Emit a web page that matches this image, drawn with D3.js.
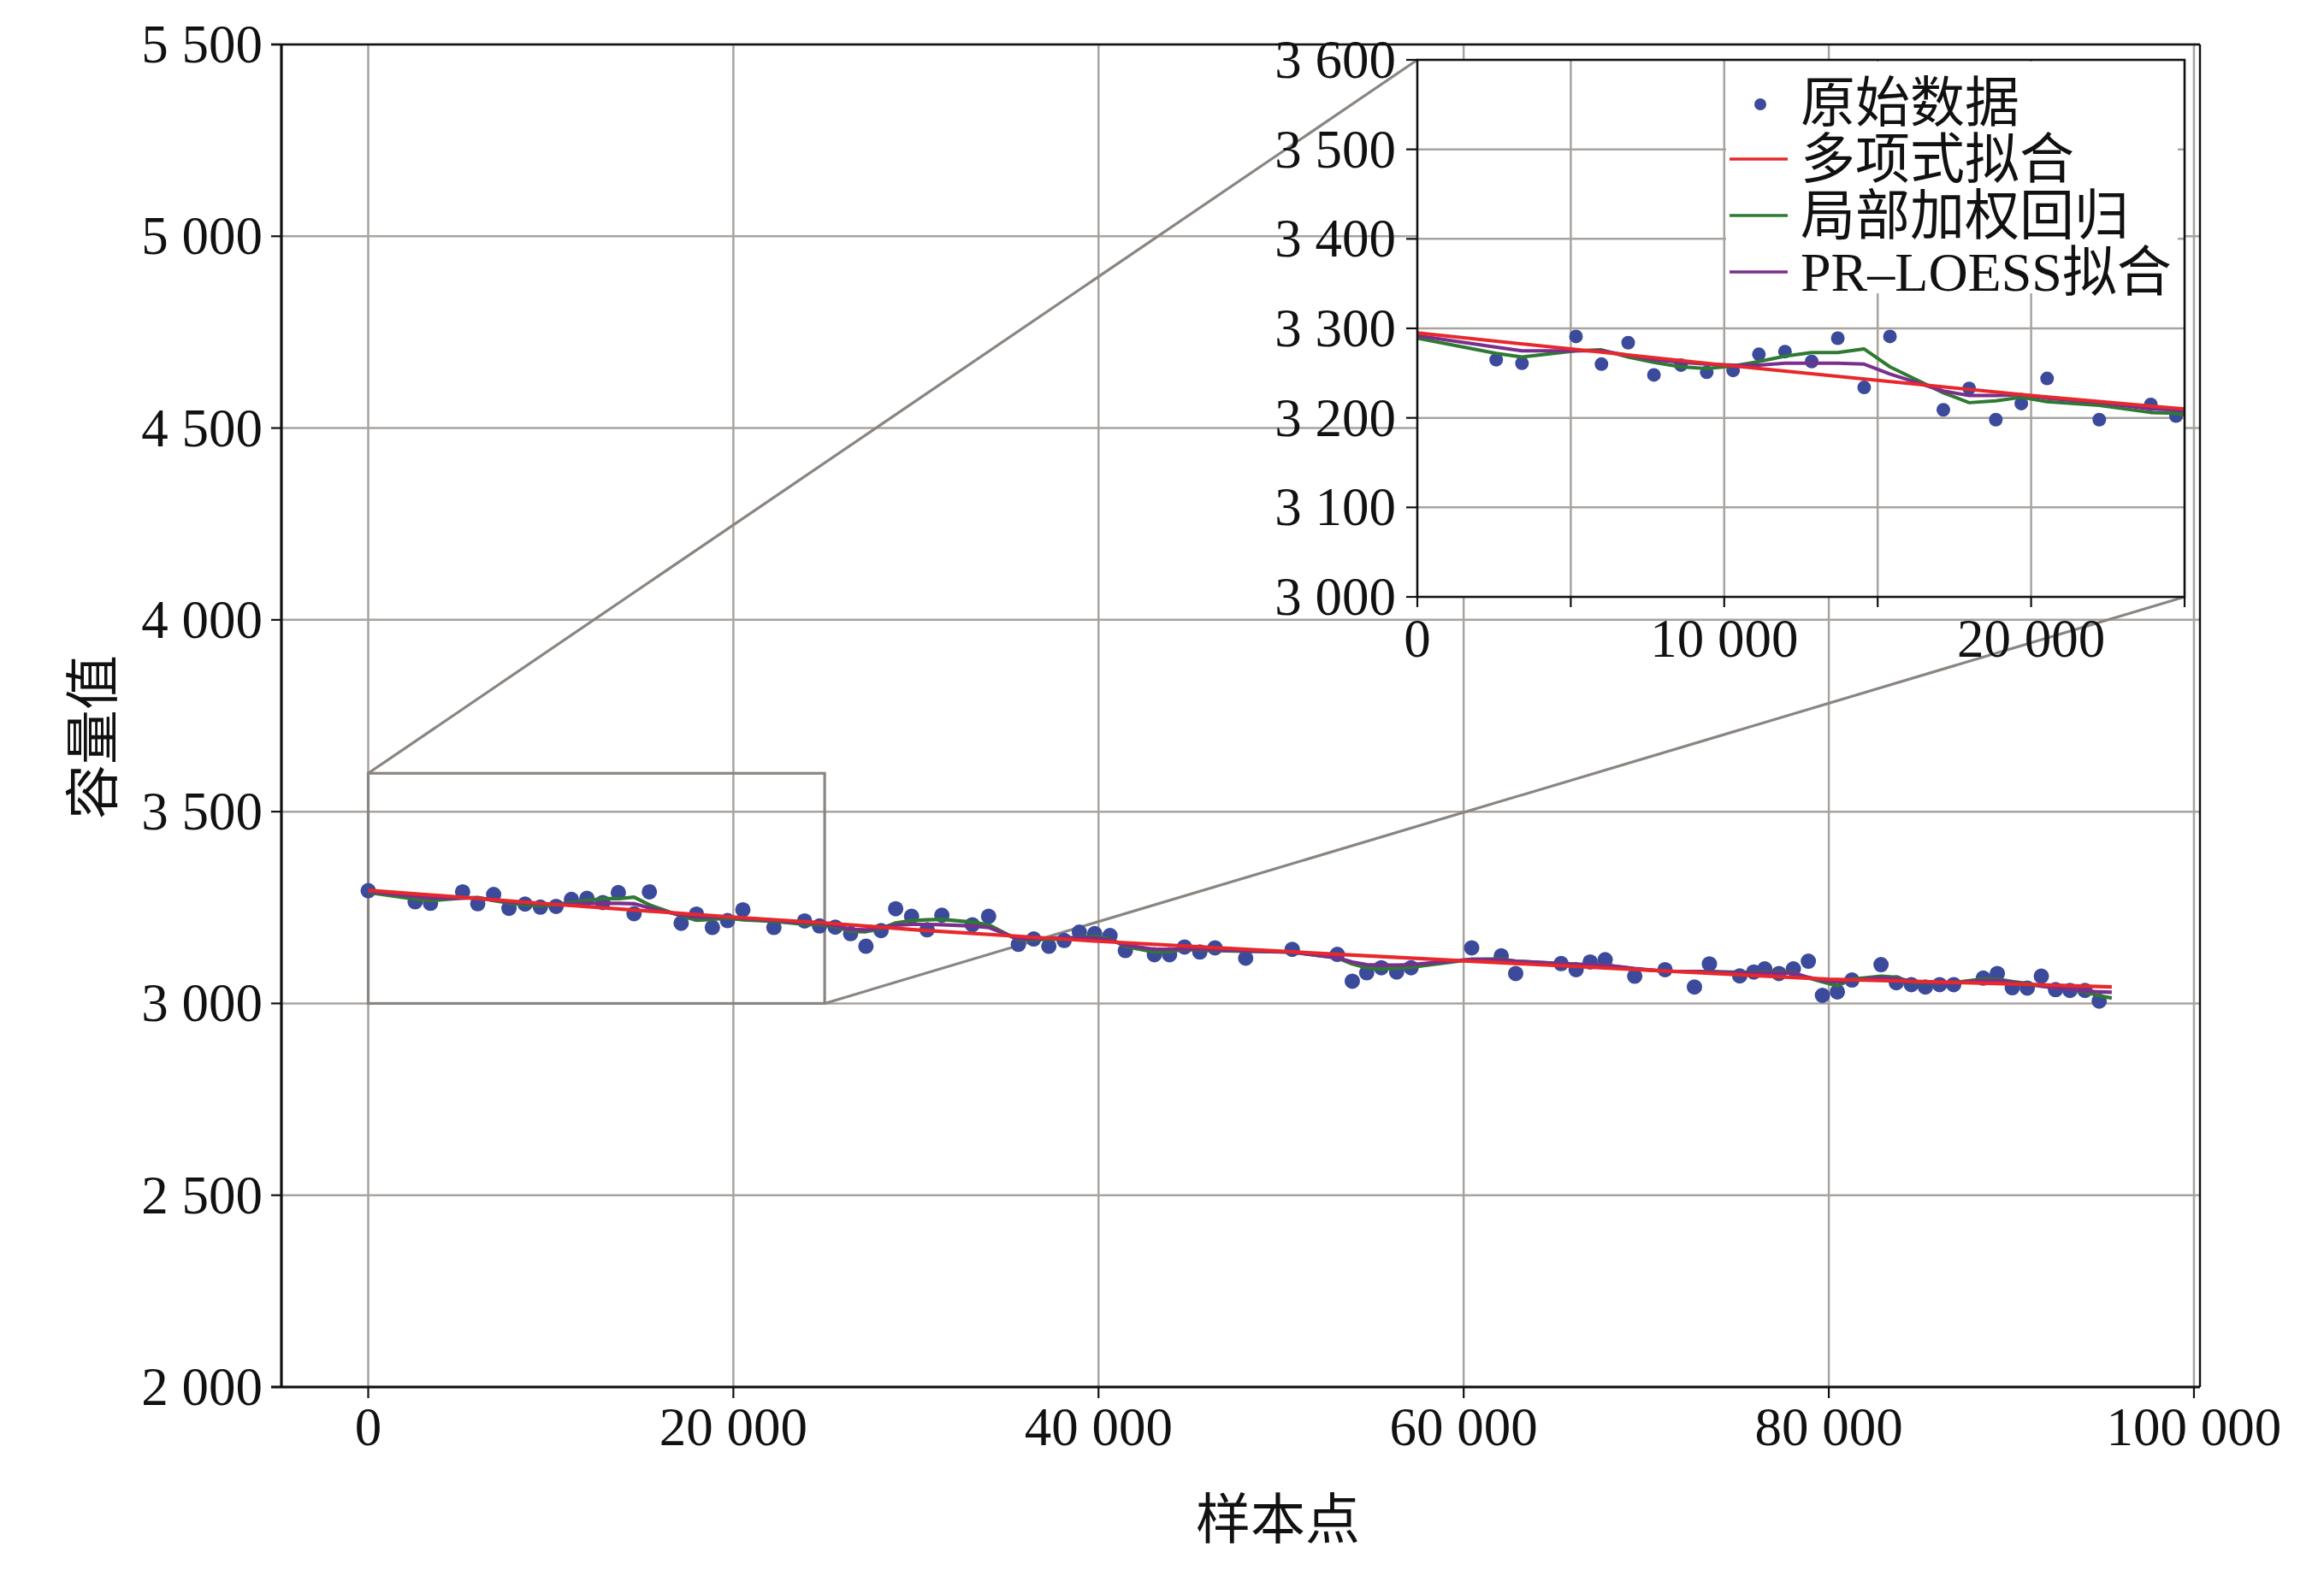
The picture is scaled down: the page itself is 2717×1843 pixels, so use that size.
<!DOCTYPE html>
<html><head><meta charset="utf-8">
<script src="https://cdn.jsdelivr.net/npm/d3@7"></script>
<style>body{margin:0;background:#fff}</style>
</head><body>
<svg id="chart" width="2717" height="1843"></svg>
<script>
// ---------- data ----------
const rawData = [
 [0,3294],[2570,3265],[3410,3261],[5170,3291],[6000,3260],[6870,3284],[7710,3248],[8590,3259],
 [9430,3251],[10290,3253],[11130,3271],[11980,3274],[12850,3263],[13700,3289],[14560,3234],[15400,3291],
 [17140,3209],[17980,3233],[18850,3198],[19680,3216],[20520,3244],[22220,3198],[23900,3215],[24720,3202],
 [25580,3199],[26420,3182],[27260,3149],[28090,3190],[28890,3247],[29760,3227],[30610,3192],[31420,3230],
 [33090,3205],[33980,3227],[35610,3154],[36450,3168],[37280,3149],[38120,3164],[38950,3186],[39790,3182],
 [40630,3177],[41470,3138],[43060,3127],[43890,3127],[44710,3147],[45550,3134],[46380,3145],[48060,3118],
 [50610,3141],[53080,3128],[53900,3058],[54690,3080],[55490,3093],[56330,3082],[57120,3093],[60440,3145],
 [62060,3124],[62850,3078],[65340,3104],[66160,3088],[66930,3108],[67750,3114],[69370,3071],[71030,3088],
 [72640,3043],[73460,3103],[75120,3072],[75890,3082],[76490,3090],[77270,3078],[78060,3090],[78880,3110],
 [79650,3021],[80470,3030],[81270,3061],[82860,3101],[83700,3054],[84520,3049],[85290,3043],[86070,3049],
 [86840,3049],[88460,3066],[89230,3078],[90050,3041],[90870,3040],[91640,3071],[92420,3036],[93210,3034],
 [94030,3034],[94810,3006]
];
const polyFit = [
 [0,3295],[5000,3277],[10000,3259],[15000,3242],[20000,3225],[25000,3210],[30000,3192],[40000,3162],
 [50000,3136],[60000,3111],[70000,3087],[80000,3063],[90000,3051],[95500,3043]
];
const loessFit = [
 [0,3289],[2570,3272],[3410,3268],[5170,3275],[6000,3276],[6870,3268],[7710,3262],[8590,3257],
 [9430,3255],[10290,3258],[11130,3263],[11980,3269],[12850,3273],[13700,3273],[14560,3277],[15400,3257],
 [17140,3228],[17980,3217],[18850,3219],[19680,3223],[20520,3218],[22220,3214],[23900,3206],[24720,3205],
 [25580,3200],[26420,3188],[27260,3187],[28090,3195],[28890,3210],[29760,3216],[30610,3218],[31420,3219],
 [33090,3212],[33980,3205],[35610,3165],[36450,3166],[37280,3167],[38120,3168],[38950,3173],[39790,3175],
 [40630,3168],[41470,3149],[43060,3134],[43890,3135],[44710,3141],[45550,3139],[46380,3138],[48060,3136],
 [50610,3134],[53080,3119],[53900,3103],[54690,3093],[55490,3090],[56330,3092],[57120,3094],[60440,3115],
 [62060,3116],[62850,3110],[65340,3104],[66160,3102],[66930,3101],[67750,3100],[69370,3090],[71030,3084],
 [72640,3083],[73460,3083],[75120,3081],[75890,3081],[76490,3082],[77270,3082],[78060,3080],[78880,3067],
 [79650,3056],[80470,3046],[81270,3063],[82860,3071],[83700,3068],[84520,3056],[85290,3054],[86070,3052],
 [86840,3054],[88460,3064],[89230,3063],[90050,3057],[90870,3052],[91640,3045],[92420,3042],[93210,3036],
 [94030,3030],[94810,3020],[95500,3014]
];
const prLoessFit = [
 [0,3292],[2570,3279],[3410,3275],[5170,3275],[6000,3275],[6870,3270],[7710,3265],[8590,3262],
 [9430,3260],[10290,3259],[11130,3259],[11980,3261],[12850,3261],[13700,3261],[14560,3260],[15400,3249],
 [17140,3230],[17980,3225],[18850,3225],[19680,3226],[20520,3222],[22220,3217],[23900,3210],[24720,3209],
 [25580,3203],[26420,3193],[27260,3192],[28090,3197],[28890,3204],[29760,3206],[30610,3206],[31420,3205],
 [33090,3202],[33980,3198],[35610,3168],[36450,3169],[37280,3170],[38120,3171],[38950,3171],[39790,3171],
 [40630,3166],[41470,3152],[43060,3141],[43890,3141],[44710,3142],[45550,3141],[46380,3140],[48060,3137],
 [50610,3134],[53080,3119],[53900,3108],[54690,3101],[55490,3100],[56330,3100],[57120,3101],[60440,3115],
 [62060,3114],[62850,3110],[65340,3104],[66160,3102],[66930,3101],[67750,3100],[69370,3091],[71030,3084],
 [72640,3083],[73460,3082],[75120,3080],[75890,3080],[76490,3080],[77270,3080],[78060,3079],[78880,3068],
 [79650,3060],[80470,3056],[81270,3060],[82860,3067],[83700,3064],[84520,3058],[85290,3055],[86070,3053],
 [86840,3053],[88460,3060],[89230,3060],[90050,3055],[90870,3050],[91640,3045],[92420,3040],[93210,3037],
 [94030,3033],[94810,3030],[95500,3029]
];
const mainXTicks = [0,20000,40000,60000,80000,100000];
const mainYTicks = [2000,2500,3000,3500,4000,4500,5000,5500];
const insetXTicks = [0,5000,10000,15000,20000,25000];
const insetXLabels = [0,10000,20000];
const insetYTicks = [3000,3100,3200,3300,3400,3500,3600];
const zoomXRange = [0,25000];
const zoomYRange = [3000,3600];
const legendLabels = ["原始数据","多项式拟合","局部加权回归","PR–LOESS拟合"];
const xTitle = "样本点";
const yTitle = "容量值";

// ---------- styles ----------
const C = {dot:"#3b4a9b", poly:"#e8282b", loess:"#2f7a32", pr:"#7b2f8c", grid:"#a8a39f", conn:"#8a8581", axis:"#111"};
const latin = "'Liberation Serif','Times New Roman',serif";
const mixed = "'Liberation Serif','Noto Sans CJK SC',serif";
const cjk = "'Noto Sans CJK SC',sans-serif";
const fmt = d3.formatLocale({decimal:".",thousands:" ",grouping:[3],currency:["",""]}).format(",");

const svg = d3.select("#chart");
svg.append("rect").attr("width",2717).attr("height",1843).attr("fill","#fff");

// main geometry
const M = {l:329, r:2572, t:52, b:1622};
const x = d3.scaleLinear().domain([-4755,100330]).range([M.l,M.r]);
const y = d3.scaleLinear().domain([2000,5500]).range([M.b,M.t]);
// inset geometry
const I = {l:1657, r:2554, t:70, b:698};
const xi = d3.scaleLinear().domain(zoomXRange).range([I.l,I.r]);
const yi = d3.scaleLinear().domain(zoomYRange).range([I.b,I.t]);

// main grid
const g = svg.append("g");
g.selectAll(".vg").data(mainXTicks).join("line")
 .attr("x1",d=>x(d)).attr("x2",d=>x(d)).attr("y1",M.t).attr("y2",M.b)
 .attr("stroke",C.grid).attr("stroke-width",2.5);
g.selectAll(".hg").data(mainYTicks).join("line")
 .attr("y1",d=>y(d)).attr("y2",d=>y(d)).attr("x1",M.l).attr("x2",M.r)
 .attr("stroke",C.grid).attr("stroke-width",2.5);

// zoom rectangle + connectors
svg.append("rect").attr("x",x(zoomXRange[0])).attr("y",y(zoomYRange[1]))
 .attr("width",x(zoomXRange[1])-x(zoomXRange[0])).attr("height",y(zoomYRange[0])-y(zoomYRange[1]))
 .attr("fill","none").attr("stroke",C.conn).attr("stroke-width",3.2);
svg.append("line").attr("x1",x(zoomXRange[0])).attr("y1",y(zoomYRange[1])).attr("x2",I.l).attr("y2",I.t)
 .attr("stroke",C.conn).attr("stroke-width",3.2);
svg.append("line").attr("x1",x(zoomXRange[1])).attr("y1",y(zoomYRange[0])).attr("x2",I.r).attr("y2",I.b)
 .attr("stroke",C.conn).attr("stroke-width",3.2);

function drawSeries(parent, sx, sy, r, lw, filterDots){
  const dots = filterDots ? rawData.filter(filterDots) : rawData;
  parent.selectAll(null).data(dots).join("circle")
   .attr("cx",d=>sx(d[0])).attr("cy",d=>sy(d[1])).attr("r",r).attr("fill",C.dot);
  const line = d3.line().x(d=>sx(d[0])).y(d=>sy(d[1]));
  parent.append("path").attr("d",line(loessFit)).attr("fill","none").attr("stroke",C.loess).attr("stroke-width",lw).attr("stroke-linejoin","round");
  parent.append("path").attr("d",line(prLoessFit)).attr("fill","none").attr("stroke",C.pr).attr("stroke-width",lw).attr("stroke-linejoin","round");
  parent.append("path").attr("d",line(polyFit)).attr("fill","none").attr("stroke",C.poly).attr("stroke-width",lw).attr("stroke-linejoin","round");
}
drawSeries(svg.append("g"), x, y, 9, 4.2);

// main frame
svg.append("line").attr("x1",M.l-12).attr("x2",M.r).attr("y1",M.t).attr("y2",M.t).attr("stroke",C.axis).attr("stroke-width",2.4);
svg.append("line").attr("x1",M.r).attr("x2",M.r).attr("y1",M.t).attr("y2",M.b).attr("stroke",C.axis).attr("stroke-width",2.4);
svg.append("line").attr("x1",M.l).attr("x2",M.l).attr("y1",M.t).attr("y2",M.b).attr("stroke",C.axis).attr("stroke-width",3.2);
svg.append("line").attr("x1",M.l-12).attr("x2",M.r).attr("y1",M.b).attr("y2",M.b).attr("stroke",C.axis).attr("stroke-width",3.2);
// main ticks + labels
svg.selectAll(null).data(mainYTicks).join("line").attr("x1",M.l-12).attr("x2",M.l).attr("y1",d=>y(d)).attr("y2",d=>y(d)).attr("stroke",C.axis).attr("stroke-width",2.2);
svg.selectAll(null).data(mainXTicks).join("line").attr("x1",d=>x(d)).attr("x2",d=>x(d)).attr("y1",M.b).attr("y2",M.b+13).attr("stroke",C.axis).attr("stroke-width",2.2);
svg.selectAll(null).data(mainYTicks).join("text").attr("x",307).attr("y",d=>y(d)+21)
 .attr("text-anchor","end").attr("font-family",latin).attr("font-size",63).attr("fill","#111").text(d=>fmt(d));
svg.selectAll(null).data(mainXTicks).join("text").attr("x",d=>x(d)).attr("y",1690)
 .attr("text-anchor","middle").attr("font-family",latin).attr("font-size",63).attr("fill","#111").text(d=>fmt(d));

// axis titles
svg.append("text").attr("transform","translate(103,862) rotate(-90)").attr("text-anchor","middle")
 .attr("dominant-baseline","central").attr("font-family",cjk).attr("font-size",64).attr("fill","#111").text(yTitle);
svg.append("text").attr("x",1494).attr("y",1771).attr("text-anchor","middle")
 .attr("dominant-baseline","central").attr("font-family",cjk).attr("font-size",64).attr("fill","#111").text(xTitle);

// ---------- inset ----------
const ig = svg.append("g");
ig.append("rect").attr("x",I.l).attr("y",I.t).attr("width",I.r-I.l).attr("height",I.b-I.t).attr("fill","#fff");
ig.selectAll(null).data(insetXTicks.slice(1,-1)).join("line")
 .attr("x1",d=>xi(d)).attr("x2",d=>xi(d)).attr("y1",I.t).attr("y2",I.b).attr("stroke",C.grid).attr("stroke-width",2.5);
ig.selectAll(null).data(insetYTicks.slice(1,-1)).join("line")
 .attr("y1",d=>yi(d)).attr("y2",d=>yi(d)).attr("x1",I.l).attr("x2",I.r).attr("stroke",C.grid).attr("stroke-width",2.5);
svg.append("clipPath").attr("id","iclip").append("rect").attr("x",I.l).attr("y",I.t).attr("width",I.r-I.l).attr("height",I.b-I.t);
const idata = ig.append("g").attr("clip-path","url(#iclip)");
drawSeries(idata, xi, yi, 8, 4, d=>d[0]>0 && d[0]<=zoomXRange[1]+500);

// legend
const L = {x0:2018, x1:2546, y0:72, y1:343};
ig.append("rect").attr("x",L.x0).attr("y",L.y0).attr("width",L.x1-L.x0).attr("height",L.y1-L.y0).attr("fill","#fff");
const legendY = [120,186,252,318];
const legendColors = [C.dot,C.poly,C.loess,C.pr];
legendLabels.forEach((lab,i)=>{
  if(i===0){
    ig.append("circle").attr("cx",2058).attr("cy",legendY[i]+2).attr("r",7).attr("fill",C.dot);
  } else {
    ig.append("line").attr("x1",2022).attr("x2",2090).attr("y1",legendY[i]).attr("y2",legendY[i])
      .attr("stroke",legendColors[i]).attr("stroke-width",3.6);
  }
  ig.append("text").attr("x",2105).attr("y",legendY[i]).attr("dominant-baseline","central")
    .attr("font-family",mixed).attr("font-size",64).attr("fill","#111").text(lab);
});

// inset frame
ig.append("rect").attr("x",I.l).attr("y",I.t).attr("width",I.r-I.l).attr("height",I.b-I.t)
 .attr("fill","none").attr("stroke",C.axis).attr("stroke-width",2.6);
ig.selectAll(null).data(insetXTicks).join("line").attr("x1",d=>xi(d)).attr("x2",d=>xi(d)).attr("y1",I.b).attr("y2",I.b+12).attr("stroke",C.axis).attr("stroke-width",2.2);
ig.selectAll(null).data(insetYTicks).join("line").attr("x1",I.l-13).attr("x2",I.l).attr("y1",d=>yi(d)).attr("y2",d=>yi(d)).attr("stroke",C.axis).attr("stroke-width",2.2);
ig.selectAll(null).data(insetYTicks).join("text").attr("x",1632).attr("y",d=>yi(d)+21)
 .attr("text-anchor","end").attr("font-family",latin).attr("font-size",63).attr("fill","#111").text(d=>fmt(d));
ig.selectAll(null).data(insetXLabels).join("text").attr("x",d=>xi(d)).attr("y",768)
 .attr("text-anchor","middle").attr("font-family",latin).attr("font-size",63).attr("fill","#111").text(d=>fmt(d));
</script>
</body></html>
